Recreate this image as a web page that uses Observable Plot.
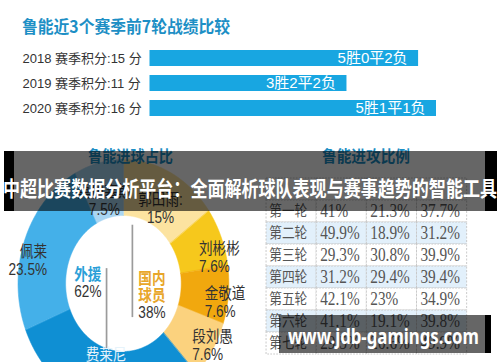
<!DOCTYPE html>
<html><head><meta charset="utf-8">
<script src="https://cdn.jsdelivr.net/npm/d3@7"></script>
<script src="https://cdn.jsdelivr.net/npm/@observablehq/plot@0.6"></script>
<style>
html,body{margin:0;padding:0;background:#fff;}
#wrap{position:relative;width:500px;height:362px;overflow:hidden;background:#fff;}
</style></head><body><div id="wrap"></div>
<script>
// ---------------- data ----------------
const chartTitles = ["鲁能近3个赛季前7轮战绩比较", "鲁能进球占比", "鲁能进攻比例"];
const seasons = ["2018", "2019", "2020"];
const seasonPoints = [15, 11, 16];
const seasonRecords = ["5胜0平2负", "3胜2平2负", "5胜1平1负"];

const scorers = ["郭田雨:", "刘彬彬", "金敬道", "段刘愚", "费莱尼", "佩莱", "莫伊塞斯"];
const scorerShares = [15, 7.6, 7.6, 7.6, 31, 23.5, 7.5];
const groupNames = ["外援", "国内\n球员"];
const groupShares = [62, 38];

const rounds = ["第一轮", "第二轮", "第三轮", "第四轮", "第五轮", "第六轮", "第七轮"];
const attackA = [41, 49.9, 29.3, 31.2, 42.1, 41.1, 29.5];
const attackB = [21.3, 18.9, 30.8, 29.4, 23, 19.1, 20.6];
const attackC = [37.7, 31.2, 39.9, 39.4, 34.9, 39.8, 49.9];

const bannerText = "中超比赛数据分析平台：全面解析球队表现与赛事趋势的智能工具";
const watermarkText = "www.jdb-gamings.com";

// ---------------- styles ----------------
const scorerColors = ["#fce3a0", "#f6c81c", "#f1a80e", "#fbd27e", "#0f8fd3", "#44b0e9", "#a9d6f2"];
const teal = "#1d8fc5";
const sans = "'Liberation Sans','Noto Sans CJK SC',sans-serif";
const cjk = "'Noto Sans CJK SC',sans-serif";
const serif = "'Liberation Serif','Noto Sans CJK SC',serif";
const S = 0.85; // the lower panels of the picture are narrowed horizontally
const baseStyle = {background: "transparent", maxWidth: "none", overflow: "visible", fontFamily: sans};

const wrap = document.getElementById("wrap");
function place(node, squash) {
  const d = document.createElement("div");
  d.style.cssText = `position:absolute;left:0;top:0;transform-origin:0 0;${squash ? `transform:scaleX(${squash});` : ""}`;
  d.appendChild(node); wrap.appendChild(d); return d;
}
function fitText(str, {x, cy, width, size, weight = 400, color, family = cjk}) {
  const d = document.createElement("div");
  d.textContent = str;
  d.style.cssText = `position:absolute;left:0;top:0;white-space:nowrap;line-height:1;font-size:${size}px;font-weight:${weight};color:${color};font-family:${family};transform-origin:0 50%;`;
  wrap.appendChild(d);
  const w = d.scrollWidth || d.getBoundingClientRect().width;
  d.style.left = x + "px";
  d.style.top = (cy - size / 2) + "px";
  d.style.transform = `scaleX(${width / w})`;
  return d;
}

// ---------------- top: bar chart ----------------
const seasonRows = seasons.map((s, i) => ({
  season: s, points: seasonPoints[i], record: seasonRecords[i],
  label: `${s} 赛季积分:${seasonPoints[i]} 分`
}));
place(Plot.plot({
  width: 500, height: 130, margin: 0, style: baseStyle,
  x: {domain: [0, d3.max(seasonPoints)], range: [149.5, 436], axis: null},
  y: {domain: seasons, range: [49, 117.5], paddingInner: 0.34, paddingOuter: 0, axis: null},
  marks: [
    Plot.barX(seasonRows, {x: "points", y: "season", fill: "#18a6e1"}),
    Plot.text(seasonRows, {x: "points", y: "season", text: "record", textAnchor: "end", dx: -11, fill: "#fff", fontSize: 15}),
    Plot.text(seasonRows, {y: "season", text: "label", frameAnchor: "left", textAnchor: "start", dx: 22, fill: "#333", fontSize: 13})
  ]
}));

// ---------------- bottom left: donut ----------------
const R = 124, cy = 283, cxU = 123 / S;
const rIn = 68 / R;
const arcs = d3.pie().sort(null).value(d => d)(scorerShares);
const ringPts = [];
arcs.forEach((p, i) => {
  const n = Math.max(2, Math.ceil((p.endAngle - p.startAngle) / 0.01));
  for (let k = 0; k <= n; k++) {
    const a = p.startAngle + (p.endAngle - p.startAngle) * k / n;
    ringPts.push({name: scorers[i], x: Math.sin(a), y: -Math.cos(a)});
  }
  for (let k = n; k >= 0; k--) {
    const a = p.startAngle + (p.endAngle - p.startAngle) * k / n;
    ringPts.push({name: scorers[i], x: rIn * Math.sin(a), y: -rIn * Math.cos(a)});
  }
});
const labelR = (1 + rIn) / 2;
const labelDy = 10;
const yClamp = (362 + 1 - labelDy - cy) / R;
const sliceLabels = arcs.map((p, i) => {
  const m = (p.startAngle + p.endAngle) / 2;
  const s = Math.sin(m);
  return {
    name: scorers[i],
    text: `${scorers[i]}\n${scorerShares[i]}%`,
    x: labelR * s, y: Math.min(-labelR * Math.cos(m), yClamp),
    side: s > 0.5 ? "start" : s < -0.5 ? "end" : "middle",
    ink: d3.hsl(scorerColors[i]).l < 0.5 ? "#e6f3fb" : "#333"
  };
});
const dividers = [
  {x: -0.16, y1: -0.12, y2: 0.53, name: groupNames[0], share: groupShares[0]},
  {x: 0.085, y1: -0.47, y2: 0.275, name: groupNames[1], share: groupShares[1]}
];
const labelMark = side => Plot.text(sliceLabels.filter(d => d.side === side), {
  x: "x", y: "y", text: "text", textAnchor: side, dy: labelDy, fill: "ink",
  fontSize: 16, lineHeight: 1.13, fontFamily: sans
});
place(Plot.plot({
  width: 300, height: 362, margin: 0, style: baseStyle,
  x: {domain: [-1, 1], range: [cxU - R, cxU + R], axis: null},
  y: {domain: [-1, 1], range: [cy - R, cy + R], axis: null},
  color: {domain: scorers, range: scorerColors},
  marks: [
    Plot.line(ringPts, {x: "x", y: "y", z: "name", fill: "name", stroke: "name", strokeWidth: 0.6, curve: "linear-closed"}),
    Plot.ruleX(dividers, {x: "x", y1: "y1", y2: "y2", stroke: "#9b9b9b", strokeWidth: 2}),
    Plot.text([dividers[0]], {x: "x", y: "y1", text: "name", textAnchor: "end", lineAnchor: "top", dx: -6, dy: 0, fill: "#2a9fd8", fontWeight: "bold", fontSize: 16, fontFamily: cjk}),
    Plot.text([dividers[0]], {x: "x", y: "y1", text: d => d.share + "%", textAnchor: "end", lineAnchor: "top", dx: -6, dy: 17, fill: "#333", fontSize: 16}),
    Plot.text([dividers[1]], {x: "x", y: "y2", text: "name", textAnchor: "start", lineAnchor: "bottom", dx: 7, dy: -17, lineHeight: 1.06, fill: "#e8a62a", fontWeight: "bold", fontSize: 16, fontFamily: cjk}),
    Plot.text([dividers[1]], {x: "x", y: "y2", text: d => d.share + "%", textAnchor: "start", lineAnchor: "bottom", dx: 7, dy: 0, fill: "#333", fontSize: 16}),
    labelMark("start"), labelMark("middle"), labelMark("end")
  ]
}), S);

// ---------------- bottom right: table ----------------
const cols = ["轮次", "A", "B", "C"];
const header = "表头";
const series = [attackA, attackB, attackC];
const tableCells = [];
[header, ...rounds].forEach((r, i) => cols.forEach((c, j) => {
  tableCells.push({
    row: r, col: c,
    shade: i > 0 && i % 2 === 0 ? "#e2f0fb" : "#ffffff",
    label: i === 0 ? "" : j === 0 ? r : series[j - 1][i - 1] + "%"
  });
}));
const tx0 = 265 / S, tx1 = 468 / S, bw = (tx1 - tx0) / cols.length;
place(Plot.plot({
  width: 600, height: 362, margin: 0, style: baseStyle,
  x: {domain: cols, range: [tx0, tx1], padding: 0, axis: null},
  y: {domain: [header, ...rounds], range: [174, 357], padding: 0, axis: null},
  color: {type: "identity"},
  marks: [
    Plot.cell(tableCells, {x: "col", y: "row", fill: "shade", stroke: "#c6c6c6", strokeDasharray: "2,1.5", inset: 0}),
    Plot.text(tableCells.filter(d => d.col === cols[0]), {x: "col", y: "row", text: "label", textAnchor: "start", dx: -bw / 2 + 3.5, fill: "#555", fontSize: 15, fontFamily: cjk}),
    Plot.text(tableCells.filter(d => d.col !== cols[0]), {x: "col", y: "row", text: "label", textAnchor: "start", dx: -bw / 2 + 4.5, fill: "#555", fontSize: 18, fontFamily: serif})
  ]
}), S);

// ---------------- titles ----------------
fitText(chartTitles[0], {x: 22, cy: 25, width: 208, size: 17, weight: 700, color: teal});
fitText(chartTitles[1], {x: 88, cy: 155, width: 85, size: 16, weight: 700, color: teal});
fitText(chartTitles[2], {x: 322, cy: 155, width: 88, size: 16, weight: 700, color: teal});

// ---------------- overlays ----------------
const band1 = document.createElement("div");
band1.style.cssText = "position:absolute;left:4px;top:151px;width:493px;height:60px;box-sizing:border-box;border-left:10px solid #000;border-right:12px solid #000;background:rgba(0,0,0,0.6);";
wrap.appendChild(band1);
fitText(bannerText, {x: 3, cy: 187, width: 494, size: 21, weight: 700, color: "#fff"});
const band2 = document.createElement("div");
band2.style.cssText = "position:absolute;left:279px;top:315px;width:212px;height:38px;box-sizing:border-box;border-right:6px solid #000;background:rgba(0,0,0,0.6);";
wrap.appendChild(band2);
fitText(watermarkText, {x: 288, cy: 336, width: 191, size: 21, weight: 700, color: "#fff", family: "'Noto Sans','DejaVu Sans',sans-serif"});
</script></body></html>
